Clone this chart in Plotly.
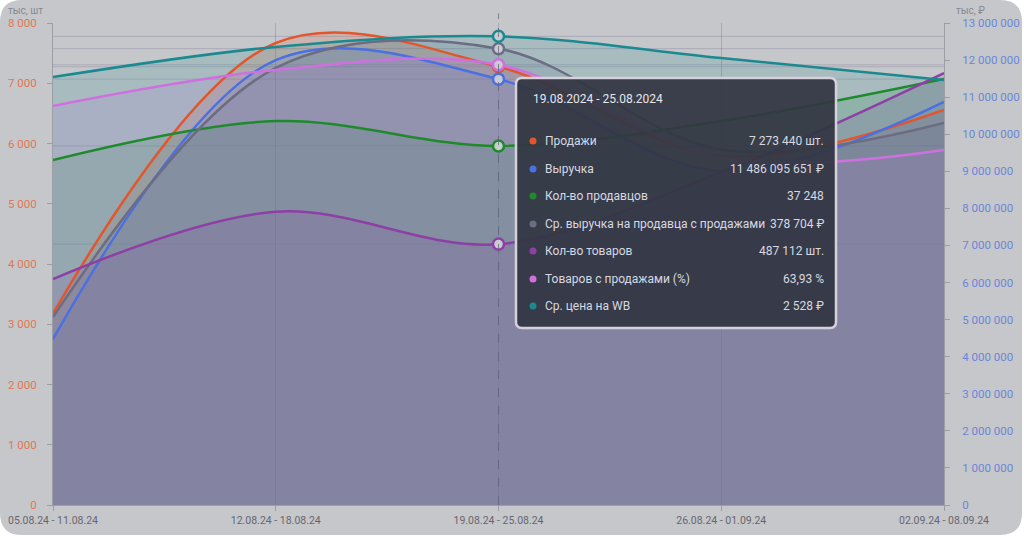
"""
Динамика по неделям: продажи, выручка, продавцы, товары, цена
- 2 видимые оси (тыс. шт / тыс. ₽), остальные серии на скрытых осях
- подсказка для недели 19.08 - 25.08 нарисована статично
"""

import plotly.graph_objects as go

# данные
weeks = ['05.08.24 - 11.08.24', '12.08.24 - 18.08.24', '19.08.24 - 25.08.24',
         '26.08.24 - 01.09.24', '02.09.24 - 08.09.24']
hover_title = '19.08.2024 - 25.08.2024'
hover_idx = 2

sales = [3180000, 7668000, 7273440, 5793000, 6556000]                 # шт
revenue = [4477000000, 12000000000, 11486095651, 9010000000, 10870000000]  # ₽
sellers = [35790, 39830, 37248, 39830, 44190]
avg_revenue = [156000, 362700, 378704, 295000, 317000]                 # ₽
products = [422000, 547600, 487112, 621000, 806600]                    # шт
sold_share = [57.95, 63.17, 63.93, 50.4, 51.56]                        # %
avg_price = [2308, 2471, 2528, 2411, 2292]                             # ₽

left_ticks = list(range(0, 8001, 1000))
right_ticks = list(range(0, 13000001, 1000000))


def fmt(v):
    return f"{v:,.0f}".replace(',', ' ')


# серии: подпись, значения на графике, верх шкалы, цвет, текст в подсказке
series = [
    ('Продажи', [v / 1000 for v in sales], 8000, '#e2562c',
     fmt(sales[hover_idx]) + ' шт.'),
    ('Выручка', [v / 1000 for v in revenue], 13000000, '#4a70e2',
     fmt(revenue[hover_idx]) + ' ₽'),
    ('Кол-во продавцов', sellers, 50000, '#1f8a2c',
     fmt(sellers[hover_idx])),
    ('Ср. выручка на продавца с продажами', avg_revenue, 400000, '#6c6c82',
     fmt(avg_revenue[hover_idx]) + ' ₽'),
    ('Кол-во товаров', products, 900000, '#8e3fa6',
     fmt(products[hover_idx]) + ' шт.'),
    ('Товаров с продажами (%)', sold_share, 70, '#d070e0',
     f"{sold_share[hover_idx]:.2f}".replace('.', ',') + ' %'),
    ('Ср. цена на WB', avg_price, 2600, '#1a8a90',
     fmt(avg_price[hover_idx]) + ' ₽'),
]
N = len(series)


def rgba(hex_color, a):
    h = hex_color.lstrip('#')
    r, g, b = int(h[0:2], 16), int(h[2:4], 16), int(h[4:6], 16)
    return f'rgba({r},{g},{b},{a})'


def yid(k):
    return 'y' if k == 1 else f'y{k}'


# размеры
W, H = 1024, 537
ML, MR, MT, MB = 53, 80, 23, 32
PW, PH = W - ML - MR, H - MT - MB


def px(x, y):
    """пиксели страницы -> координаты paper"""
    return (x - ML) / PW, (H - MB - y) / PH


def rounded_rect(x0, y0, x1, y1, r):
    pts = []
    a, b = px(x0, y0), px(x1, y1)
    rx, ry = r / PW, r / PH
    l, t, rr, bt = a[0], a[1], b[0], b[1]
    pts.append(f"M {l + rx},{t}")
    pts.append(f"L {rr - rx},{t}")
    pts.append(f"Q {rr},{t} {rr},{t - ry}")
    pts.append(f"L {rr},{bt + ry}")
    pts.append(f"Q {rr},{bt} {rr - rx},{bt}")
    pts.append(f"L {l + rx},{bt}")
    pts.append(f"Q {l},{bt} {l},{bt + ry}")
    pts.append(f"L {l},{t - ry}")
    pts.append(f"Q {l},{t} {l + rx},{t}")
    pts.append("Z")
    return ' '.join(pts)


fig = go.Figure()

# заливки: оси y..y7; линии и маркеры: оси y8..y14 (рисуются поверх заливок)
for i, (name, vals, top, color, _) in enumerate(series):
    fig.add_trace(go.Scatter(
        x=weeks, y=vals, yaxis=yid(i + 1),
        mode='lines',
        line=dict(color=color, width=0, shape='spline', smoothing=1),
        fill='tozeroy', fillcolor=rgba(color, 0.17),
        hoverinfo='skip',
    ))

for i, (name, vals, top, color, _) in reversed(list(enumerate(series))):
    fig.add_trace(go.Scatter(
        x=weeks, y=vals, name=name, yaxis=yid(N + i + 1),
        mode='lines',
        line=dict(color=color, width=2.5, shape='spline', smoothing=1),
        hoverinfo='skip',
    ))
    fig.add_trace(go.Scatter(
        x=[weeks[hover_idx]], y=[vals[hover_idx]], yaxis=yid(N + i + 1),
        mode='markers',
        marker=dict(size=11, color='#c9cbd1', line=dict(color=color, width=2.5)),
        hoverinfo='skip',
    ))

shapes = []
annotations = []

# подложка-карточка
shapes.append(dict(type='path', xref='paper', yref='paper',
                   path=rounded_rect(0, 0, 1022, 535, 22),
                   fillcolor='#c6c7cb', line_width=0, layer='below'))

# горизонтальные линии на уровнях точек
for i, (name, vals, top, color, _) in enumerate(series):
    shapes.append(dict(type='line', xref='paper', yref=yid(i + 1),
                       x0=0, x1=1, y0=vals[hover_idx], y1=vals[hover_idx],
                       line=dict(color='rgba(120,120,145,0.35)', width=1),
                       layer='below'))

# вертикальная пунктирная линия
shapes.append(dict(type='line', xref='x', yref='paper',
                   x0=weeks[hover_idx], x1=weeks[hover_idx], y0=0, y1=1.02,
                   line=dict(color='rgba(95,95,120,0.7)', width=1, dash='dash')))

# подсказка
shapes.append(dict(type='path', xref='paper', yref='paper',
                   path=rounded_rect(516, 78, 836, 328, 6),
                   fillcolor='rgba(50,54,66,0.93)',
                   line=dict(color='#d6d0db', width=2.5)))

hx, hy = px(531, 99)
annotations.append(dict(xref='paper', yref='paper', x=hx, y=hy,
                        text=hover_title, showarrow=False,
                        xanchor='left', yanchor='middle',
                        font=dict(size=12, color='#e6e6ec')))

row_y = [141, 169, 196, 224, 251, 279, 306]
for (name, vals, top, color, value_text), ry in zip(series, row_y):
    dx, dy = px(533, ry)
    shapes.append(dict(type='circle', xref='paper', yref='paper',
                       xsizemode='pixel', ysizemode='pixel',
                       xanchor=dx, yanchor=dy,
                       x0=-3.5, x1=3.5, y0=-3.5, y1=3.5,
                       fillcolor=color, line_width=0))
    lx, ly = px(543, ry)
    annotations.append(dict(xref='paper', yref='paper', x=lx, y=ly,
                            text=name, showarrow=False,
                            xanchor='left', yanchor='middle',
                            font=dict(size=12, color='#d8d8e0')))
    vx, vy = px(826, ry)
    annotations.append(dict(xref='paper', yref='paper', x=vx, y=vy,
                            text=value_text, showarrow=False,
                            xanchor='right', yanchor='middle',
                            font=dict(size=12, color='#d8d8e0')))

# подписи осей
tx, ty = px(6, 10)
annotations.append(dict(xref='paper', yref='paper', x=tx, y=ty,
                        text='тыс, шт', showarrow=False,
                        xanchor='left', yanchor='middle',
                        font=dict(size=10, color='#858792')))
tx, ty = px(954, 10)
annotations.append(dict(xref='paper', yref='paper', x=tx, y=ty,
                        text='тыс, ₽', showarrow=False,
                        xanchor='left', yanchor='middle',
                        font=dict(size=10, color='#858792')))

axis_common = dict(showgrid=False, zeroline=False, showline=True,
                   linecolor='#9c9ea6', linewidth=1,
                   ticks='outside', ticklen=5, tickcolor='#9c9ea6',
                   tickformat=',d', automargin=False)

layout_axes = {}
for i, (name, vals, top, color, _) in enumerate(series):
    for k in (i + 1, N + i + 1):
        if k <= 2:
            continue
        layout_axes['yaxis' + str(k)] = dict(overlaying='y', range=[0, top],
                                             visible=False)

fig.update_layout(
    width=W, height=H,
    margin=dict(l=ML, r=MR, t=MT, b=MB),
    paper_bgcolor='white',
    plot_bgcolor='rgba(0,0,0,0)',
    font=dict(family='Roboto, sans-serif', size=11, color='#666670'),
    separators=', ',
    showlegend=False,
    hovermode=False,
    xaxis=dict(type='category', range=[0, len(weeks) - 1], automargin=False,
               showgrid=True, gridcolor='rgba(95,95,120,0.3)', gridwidth=1,
               showline=True, linecolor='#9c9ea6',
               ticks='outside', ticklen=5, tickcolor='#9c9ea6',
               tickfont=dict(size=10.5, color='#66666e')),
    yaxis=dict(range=[0, series[0][2]], tickvals=left_ticks, ticklabelstandoff=8,
               tickfont=dict(size=11.5, color='#e07654'), **axis_common),
    yaxis2=dict(range=[0, series[1][2]], tickvals=right_ticks, overlaying='y',
                side='right', ticklabelstandoff=10,
                tickfont=dict(size=11.5, color='#6a86d8'),
                **axis_common),
    shapes=shapes,
    annotations=annotations,
    **layout_axes,
)

fig.write_html("out.html", config={'displayModeBar': False},
               post_script="document.body.style.margin = '0';")
